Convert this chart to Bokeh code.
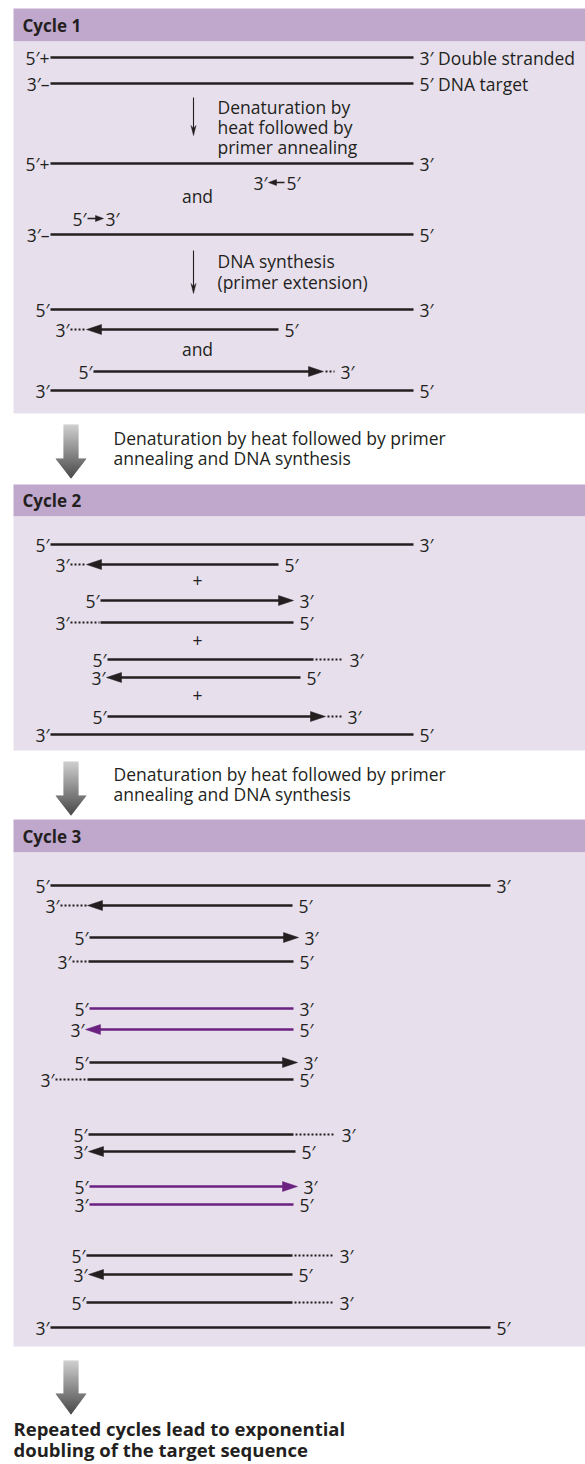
from bokeh.plotting import figure
from bokeh.models import ColumnDataSource, Range1d
from bokeh.embed import file_html
from bokeh.resources import INLINE
from bokeh.core.properties import value

FONT = "Open Sans"
INK = "#231F20"
PURPLE = "#6B2180"
HEAD_FILL = "#C0A7CC"
BODY_FILL = "#E7DFEC"
P = "\u2032"
FS = "17.5px"

# ---------------- data ----------------
panel_titles = ["Cycle 1", "Cycle 2", "Cycle 3"]
panel_header_top = [8, 484, 819]
panel_header_bottom = [41, 516, 852]
panel_body_bottom = [413, 750, 1346]
panel_left = 13
panel_right = 585

# strand: (y, x_left, x_right, dots_left, dots_right, arrow, color, left label, right label)
cycle1_strands = [
    (57, 50, 413, None, None, None, INK, "5" + P + "+", "3" + P + " Double stranded"),
    (83, 50, 413, None, None, None, INK, "3" + P + "\u2013", "5" + P + " DNA target"),
    (163, 50, 413, None, None, None, INK, "5" + P + "+", "3" + P),
    (234, 50, 413, None, None, None, INK, "3" + P + "\u2013", "5" + P),
    (309, 50, 413, None, None, None, INK, "5" + P, "3" + P),
    (329, 86, 278, 70, None, "L", INK, "3" + P, "5" + P),
    (371, 93, 323, None, 334, "R", INK, "5" + P, "3" + P),
    (390, 50, 413, None, None, None, INK, "3" + P, "5" + P),
]
cycle2_strands = [
    (544, 50, 413, None, None, None, INK, "5" + P, "3" + P),
    (564, 86, 278, 70, None, "L", INK, "3" + P, "5" + P),
    (600, 100, 293, None, None, "R", INK, "5" + P, "3" + P),
    (622, 100, 293, 70, None, None, INK, "3" + P, "5" + P),
    (659, 107, 313, None, 343, None, INK, "5" + P, "3" + P),
    (677, 106, 300, None, None, "L", INK, "3" + P, "5" + P),
    (716, 107, 325, None, 341, "R", INK, "5" + P, "3" + P),
    (734, 50, 413, None, None, None, INK, "3" + P, "5" + P),
]
cycle3_strands = [
    (885, 50, 490, None, None, None, INK, "5" + P, "3" + P),
    (905, 87, 292, 60, None, "L", INK, "3" + P, "5" + P),
    (937, 89, 298, None, None, "R", INK, "5" + P, "3" + P),
    (961, 88, 293, 72, None, None, INK, "3" + P, "5" + P),
    (1008, 89, 293, None, None, None, PURPLE, "5" + P, "3" + P),
    (1029, 85, 293, None, None, "L", PURPLE, "3" + P, "5" + P),
    (1062, 89, 297, None, None, "R", INK, "5" + P, "3" + P),
    (1079, 87, 293, 55, None, None, INK, "3" + P, "5" + P),
    (1134, 88, 293, None, 335, None, INK, "5" + P, "3" + P),
    (1151, 88, 295, None, None, "L", INK, "3" + P, "5" + P),
    (1186, 89, 297, None, None, "R", PURPLE, "5" + P, "3" + P),
    (1204, 89, 293, None, None, None, PURPLE, "3" + P, "5" + P),
    (1255, 86, 292, None, 333, None, INK, "5" + P, "3" + P),
    (1274, 88, 292, None, None, "L", INK, "3" + P, "5" + P),
    (1302, 86, 292, None, 333, None, INK, "5" + P, "3" + P),
    (1327, 50, 490, None, None, None, INK, "3" + P, "5" + P),
]

# primers in cycle 1: (y, x_tail, x_tip, left label, right label)
primers = [
    (182, 284, 268, "3" + P, "5" + P),
    (218, 87, 103, "5" + P, "3" + P),
]

# small step arrows in cycle 1: (x, y_top, y_tip)
step_arrows = [(193, 97, 135), (193, 250, 293)]
step_text_x = 217
step_text = ["Denaturation by", "heat followed by", "primer annealing",
             "DNA synthesis", "(primer extension)"]
step_text_y = [106, 126, 146, 260, 281]

and_y = [195, 348]
plus_y = [580, 640, 695]
join_x = 197

# big gray arrows between panels: (y_top, y_head_base, y_tip)
big_arrows = [(424, 458, 478), (761, 795, 815), (1360, 1393, 1414)]
between_text = ["Denaturation by heat followed by primer", "annealing and DNA synthesis"]
between_text_y = [[437, 457], [773, 793]]
between_text_x = 113

final_text = ["Repeated cycles lead to exponential", "doubling of the target sequence"]
final_text_y = [1428, 1449]
final_text_x = 13

# ---------------- figure ----------------
p = figure(width=585, height=1464, x_range=Range1d(0, 585), y_range=Range1d(1464, 0),
           output_backend="svg", toolbar_location=None, min_border=0)
p.axis.visible = False
p.xgrid.visible = False
p.ygrid.visible = False
p.outline_line_color = None
p.background_fill_color = "white"
p.border_fill_color = "white"

# panels
p.quad(left=[panel_left] * 3, right=[panel_right] * 3, top=panel_header_top,
       bottom=panel_header_bottom, fill_color=HEAD_FILL, line_color=None)
p.quad(left=[panel_left] * 3, right=[panel_right] * 3, top=panel_header_bottom,
       bottom=panel_body_bottom, fill_color=BODY_FILL, line_color=None)
p.text(x=[22] * 3, y=[(a + b) / 2 for a, b in zip(panel_header_top, panel_header_bottom)],
       text=panel_titles, text_font=value(FONT), text_font_style="bold",
       text_font_size="17px", text_color=INK, text_baseline="middle", text_align="left")

# strands
AL, AH = 15, 5
solid = dict(x0=[], y0=[], x1=[], y1=[], c=[])
dots = dict(x0=[], y0=[], x1=[], y1=[], c=[])
heads = dict(xs=[], ys=[], c=[])
lab_l = dict(x=[], y=[], t=[], c=[])
lab_r = dict(x=[], y=[], t=[], c=[])

for y, xl, xr, dl, dr, arrow, col, tl, tr in cycle1_strands + cycle2_strands + cycle3_strands:
    a = xl + AL - 2 if arrow == "L" else xl
    b = xr - AL + 2 if arrow == "R" else xr
    solid["x0"].append(a); solid["x1"].append(b)
    solid["y0"].append(y); solid["y1"].append(y); solid["c"].append(col)
    if arrow == "L":
        heads["xs"].append([xl, xl + AL, xl + AL]); heads["ys"].append([y, y - AH, y + AH]); heads["c"].append(col)
    if arrow == "R":
        heads["xs"].append([xr, xr - AL, xr - AL]); heads["ys"].append([y, y - AH, y + AH]); heads["c"].append(col)
    if dl is not None:
        dots["x0"].append(dl); dots["x1"].append(xl - 1)
        dots["y0"].append(y); dots["y1"].append(y); dots["c"].append(col)
    if dr is not None:
        dots["x0"].append(xr + 2); dots["x1"].append(dr)
        dots["y0"].append(y); dots["y1"].append(y); dots["c"].append(col)
    lab_l["x"].append((dl if dl is not None else xl) - 1); lab_l["y"].append(y)
    lab_l["t"].append(tl); lab_l["c"].append(INK)
    lab_r["x"].append((dr if dr is not None else xr) + 6); lab_r["y"].append(y)
    lab_r["t"].append(tr); lab_r["c"].append(INK)

# primers
pr_seg = dict(x0=[], y0=[], x1=[], y1=[])
pr_head = dict(xs=[], ys=[])
for y, xt, xp, tl, tr in primers:
    d = 1 if xp > xt else -1
    pr_seg["x0"].append(xt); pr_seg["x1"].append(xp - d * 5)
    pr_seg["y0"].append(y); pr_seg["y1"].append(y)
    pr_head["xs"].append([xp, xp - d * 8, xp - d * 8]); pr_head["ys"].append([y, y - 3, y + 3])
    lab_l["x"].append(min(xt, xp) - 1); lab_l["y"].append(y); lab_l["t"].append(tl); lab_l["c"].append(INK)
    lab_r["x"].append(max(xt, xp) + 2); lab_r["y"].append(y); lab_r["t"].append(tr); lab_r["c"].append(INK)

p.segment(x0="x0", y0="y0", x1="x1", y1="y1", line_color="c", line_width=2.6,
          source=ColumnDataSource(solid))
p.segment(x0="x0", y0="y0", x1="x1", y1="y1", line_color="c", line_width=2.2,
          line_dash="2 2", source=ColumnDataSource(dots))
p.patches(xs="xs", ys="ys", fill_color="c", line_color="c", line_width=0.5,
          source=ColumnDataSource(heads))
p.segment(x0="x0", y0="y0", x1="x1", y1="y1", line_color=INK, line_width=1.3,
          source=ColumnDataSource(pr_seg))
p.patches(xs="xs", ys="ys", fill_color=INK, line_color=INK, line_width=0.5,
          source=ColumnDataSource(pr_head))

# step arrows
for x, yt, yp in step_arrows:
    p.segment(x0=[x], y0=[yt], x1=[x], y1=[yp - 6], line_color=INK, line_width=1.1)
    p.patches(xs=[[x, x - 2.5, x, x + 2.5]], ys=[[yp, yp - 10, yp - 7, yp - 10]],
              fill_color=INK, line_color=INK, line_width=0.5)

p.text(x="x", y="y", text="t", text_color="c", source=ColumnDataSource(lab_l),
       text_font=value(FONT), text_font_size=FS, text_align="right", text_baseline="middle")
p.text(x="x", y="y", text="t", text_color="c", source=ColumnDataSource(lab_r),
       text_font=value(FONT), text_font_size=FS, text_align="left", text_baseline="middle")

p.text(x=[step_text_x] * len(step_text), y=step_text_y, text=step_text, text_color=INK,
       text_font=value(FONT), text_font_size=FS, text_align="left", text_baseline="middle")
p.text(x=[join_x] * len(and_y), y=and_y, text=["and"] * len(and_y), text_color=INK,
       text_font=value(FONT), text_font_size=FS, text_align="center", text_baseline="middle")
p.text(x=[join_x] * len(plus_y), y=plus_y, text=["+"] * len(plus_y), text_color=INK,
       text_font=value(FONT), text_font_size=FS, text_align="center", text_baseline="middle")

# big gradient arrows
def gray(t):
    v = int(round(200 - t * (200 - 45)))
    return "#%02x%02x%02x" % (v, v, v)

gq = dict(l=[], r=[], t=[], b=[], c=[])
gp = dict(xs=[], ys=[], c=[])
for yt, yb, ytip in big_arrows:
    span = ytip - yt
    y = yt
    while y < yb:
        y2 = min(y + 1, yb)
        gq["l"].append(63); gq["r"].append(78); gq["t"].append(y); gq["b"].append(y2 + 0.3)
        gq["c"].append(gray((y - yt) / span))
        y = y2
    hl, hr = 55, 86
    cx = (hl + hr) / 2
    hh = ytip - yb
    y = yb
    while y < ytip:
        y2 = min(y + 1, ytip)
        f1 = 1 - (y - yb) / hh
        f2 = 1 - (y2 - yb) / hh
        w1 = (hr - hl) / 2 * f1
        w2 = (hr - hl) / 2 * f2
        gp["xs"].append([cx - w1, cx + w1, cx + w2, cx - w2])
        gp["ys"].append([y, y, y2 + 0.3, y2 + 0.3])
        gp["c"].append(gray((y - yt) / span))
        y = y2
p.quad(left="l", right="r", top="t", bottom="b", fill_color="c", line_color=None,
       source=ColumnDataSource(gq))
p.patches(xs="xs", ys="ys", fill_color="c", line_color=None, source=ColumnDataSource(gp))

for ys in between_text_y:
    p.text(x=[between_text_x] * 2, y=ys, text=between_text, text_color=INK,
           text_font=value(FONT), text_font_size=FS, text_align="left", text_baseline="middle")

p.text(x=[final_text_x] * 2, y=final_text_y, text=final_text, text_color=INK,
       text_font=value(FONT), text_font_size="18.5px", text_font_style="bold",
       text_align="left", text_baseline="middle")

open("out.html", "w").write(file_html(p, INLINE))
